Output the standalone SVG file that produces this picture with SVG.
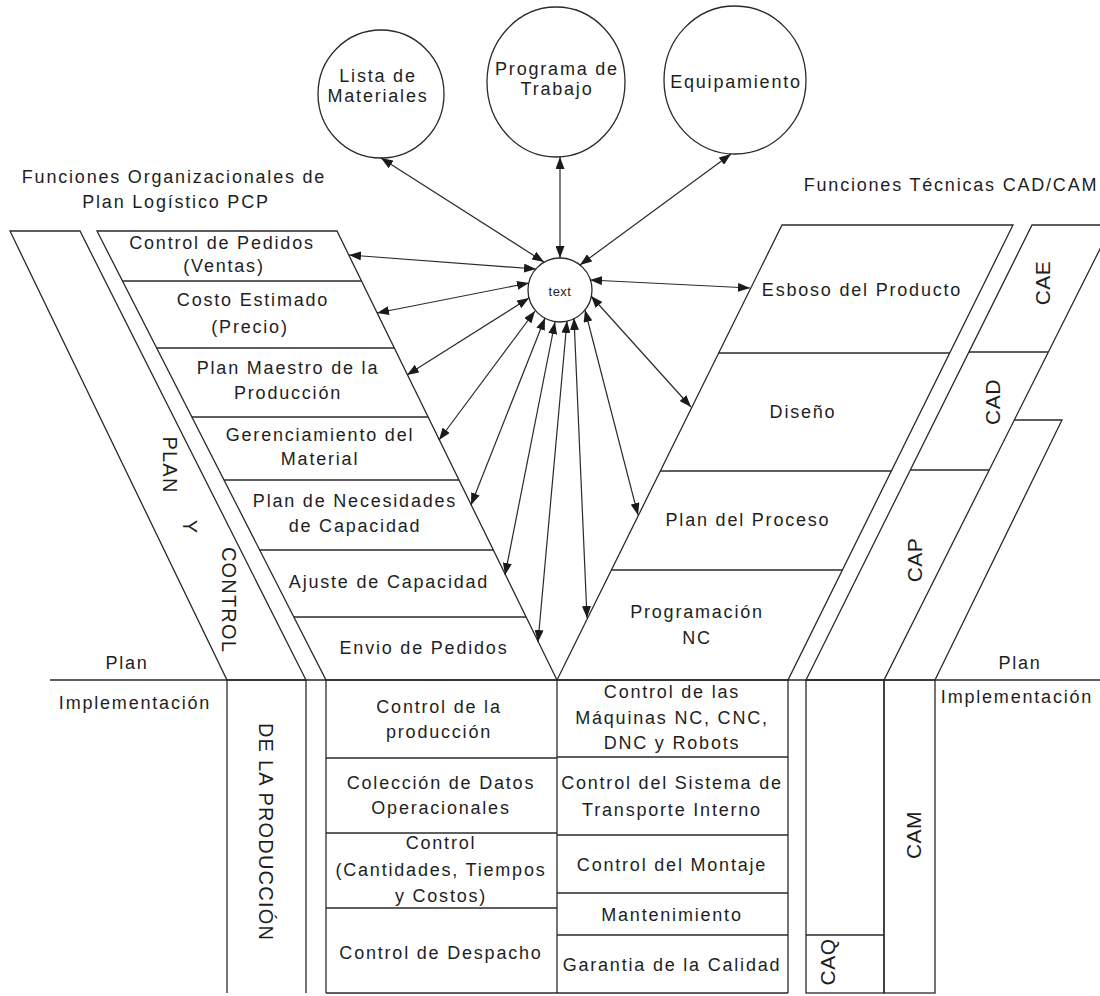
<svg xmlns="http://www.w3.org/2000/svg" width="1100" height="996" viewBox="0 0 1100 996">
<defs>
<style>
.s{fill:none;stroke:#2a2a2a;stroke-width:1.3}
.w{fill:#fff;stroke:#2a2a2a;stroke-width:1.3}
text{font-family:"Liberation Sans",Arial,sans-serif;font-size:18px;letter-spacing:1.8px;fill:#1e1e1e;text-anchor:middle;dominant-baseline:central}
.v{font-size:20px;letter-spacing:1.2px}
.c{font-size:21px;letter-spacing:0.5px}
.a{fill:none;stroke:#2a2a2a;stroke-width:1.2;marker-start:url(#ah);marker-end:url(#ah)}
</style>
<marker id="ah" viewBox="0 0 12 9" refX="12" refY="4.5" markerWidth="12" markerHeight="9" markerUnits="userSpaceOnUse" orient="auto-start-reverse"><path d="M0,0L12,4.5L0,9z" fill="#1a1a1a"/></marker>
</defs>
<rect width="1100" height="996" fill="#fff"/>

<g id="title-left">
<text x="174" y="177">Funciones Organizacionales de</text>
<text x="176" y="202">Plan Logístico PCP</text>
</g>
<g id="title-right">
<text x="951" y="185">Funciones Técnicas CAD/CAM</text>
</g>

<g id="circle-lista">
<ellipse class="w" cx="381" cy="94" rx="63" ry="64"/>
<text x="378" y="76">Lista de</text>
<text x="378" y="96">Materiales</text>
</g>
<g id="circle-programa">
<ellipse class="w" cx="556" cy="82" rx="69" ry="75"/>
<text x="557" y="69">Programa de</text>
<text x="557" y="89">Trabajo</text>
</g>
<g id="circle-equipamiento">
<ellipse class="w" cx="735" cy="80" rx="71" ry="74"/>
<text x="736" y="82">Equipamiento</text>
</g>

<g id="band-plan-control">
<polygon class="s" points="10,231 80,231 306,680 227,680"/>
<line class="s" x1="227" y1="680" x2="227" y2="993"/>
<line class="s" x1="306" y1="680" x2="306" y2="993"/>
<text class="v" transform="translate(170,465) rotate(90)">PLAN</text>
<text class="v" transform="translate(190,527) rotate(90)">Y</text>
<text class="v" transform="translate(229,600) rotate(90)">CONTROL</text>
<text class="v" transform="translate(266,832) rotate(90)">DE LA PRODUCCIÓN</text>
</g>

<g id="pcp-functions">
<polygon class="s" points="97,231 337,231 557,680 326,680"/>
<line class="s" x1="122.5" y1="281" x2="361.5" y2="281"/>
<line class="s" x1="156.7" y1="348" x2="394.3" y2="348"/>
<line class="s" x1="191.9" y1="417" x2="428.1" y2="417"/>
<line class="s" x1="224" y1="480" x2="459" y2="480"/>
<line class="s" x1="259.7" y1="550" x2="493.3" y2="550"/>
<line class="s" x1="293.9" y1="617" x2="526.1" y2="617"/>
<text x="222" y="243">Control de Pedidos</text>
<text x="224" y="266">(Ventas)</text>
<text x="253" y="300">Costo Estimado</text>
<text x="250" y="327">(Precio)</text>
<text x="288" y="368">Plan Maestro de la</text>
<text x="288" y="393">Producción</text>
<text x="320" y="435">Gerenciamiento del</text>
<text x="320" y="459">Material</text>
<text x="355" y="501">Plan de Necesidades</text>
<text x="355" y="526">de Capacidad</text>
<text x="389" y="582">Ajuste de Capacidad</text>
<text x="424" y="648">Envio de Pedidos</text>
</g>

<g id="cad-functions">
<polygon class="s" points="782,225 1013,225 788,680 557,680"/>
<line class="s" x1="718.7" y1="353" x2="949.7" y2="353"/>
<line class="s" x1="660.3" y1="471" x2="891.4" y2="471"/>
<line class="s" x1="611.4" y1="570" x2="842.4" y2="570"/>
<text x="862" y="290">Esboso del Producto</text>
<text x="803" y="412">Diseño</text>
<text x="748" y="520">Plan del Proceso</text>
<text x="697" y="612">Programación</text>
<text x="697" y="638">NC</text>
</g>

<g id="cax-band">
<polygon class="s" points="1032,225 1112,225 884,680 806,680"/>
<line class="s" x1="969" y1="352" x2="1048" y2="352"/>
<line class="s" x1="910.3" y1="470" x2="989" y2="470"/>
<text class="c" transform="translate(1042,283) rotate(-90)">CAE</text>
<text class="c" transform="translate(992,402) rotate(-90)">CAD</text>
<text class="c" transform="translate(914,560) rotate(-90)">CAP</text>
</g>

<g id="cam-plan-area">
<polyline class="s" points="1014,420 1062,420 935,680"/>
</g>

<g id="plan-implementacion">
<line class="s" x1="50" y1="680" x2="1100" y2="680"/>
<text x="127" y="663">Plan</text>
<text x="135" y="703">Implementación</text>
<text x="1020" y="663">Plan</text>
<text x="1017" y="697">Implementación</text>
</g>

<g id="production-control">
<line class="s" x1="326" y1="680" x2="326" y2="993"/>
<line class="s" x1="557" y1="680" x2="557" y2="993"/>
<line class="s" x1="326" y1="758" x2="557" y2="758"/>
<line class="s" x1="326" y1="833" x2="557" y2="833"/>
<line class="s" x1="326" y1="908" x2="557" y2="908"/>
<line class="s" x1="326" y1="993" x2="557" y2="993"/>
<text x="439" y="707">Control de la</text>
<text x="439" y="732">producción</text>
<text x="441" y="783">Colección de Datos</text>
<text x="441" y="808">Operacionales</text>
<text x="441" y="843">Control</text>
<text x="441" y="870">(Cantidades, Tiempos</text>
<text x="441" y="896">y Costos)</text>
<text x="441" y="953">Control de Despacho</text>
</g>

<g id="cam-functions">
<line class="s" x1="788" y1="680" x2="788" y2="993"/>
<line class="s" x1="557" y1="757" x2="788" y2="757"/>
<line class="s" x1="557" y1="835" x2="788" y2="835"/>
<line class="s" x1="557" y1="893" x2="788" y2="893"/>
<line class="s" x1="557" y1="935" x2="788" y2="935"/>
<line class="s" x1="557" y1="993" x2="788" y2="993"/>
<text x="672" y="692">Control de las</text>
<text x="672" y="718">Máquinas NC, CNC,</text>
<text x="672" y="743">DNC y Robots</text>
<text x="672" y="783">Control del Sistema de</text>
<text x="672" y="810">Transporte Interno</text>
<text x="672" y="865">Control del Montaje</text>
<text x="672" y="915">Mantenimiento</text>
<text x="672" y="965">Garantia de la Calidad</text>
</g>

<g id="caq-cam">
<rect class="s" x="806" y="680" width="78" height="313"/>
<rect class="s" x="884" y="680" width="51" height="313"/>
<line class="s" x1="806" y1="935" x2="884" y2="935"/>
<text class="c" transform="translate(827,962) rotate(-90)">CAQ</text>
<text class="c" transform="translate(913,835) rotate(-90)">CAM</text>
</g>

<g id="hub">
<circle class="w" cx="560" cy="290" r="32"/>
<text x="560" y="291" style="font-size:13px;letter-spacing:0.5px">text</text>
</g>

<g id="connectors">
<line class="a" x1="544" y1="262" x2="381" y2="158"/>
<line class="a" x1="560" y1="258" x2="560" y2="157"/>
<line class="a" x1="580" y1="265" x2="731" y2="154"/>
<line class="a" x1="536" y1="269" x2="349" y2="255"/>
<line class="a" x1="529" y1="283" x2="377" y2="313"/>
<line class="a" x1="529" y1="298" x2="407" y2="375"/>
<line class="a" x1="535" y1="311" x2="439" y2="440"/>
<line class="a" x1="545" y1="318" x2="471" y2="505"/>
<line class="a" x1="555" y1="322" x2="505" y2="575"/>
<line class="a" x1="567" y1="321" x2="538" y2="642"/>
<line class="a" x1="574" y1="318" x2="587" y2="618"/>
<line class="a" x1="585" y1="310" x2="638" y2="515"/>
<line class="a" x1="591" y1="296" x2="691" y2="407"/>
<line class="a" x1="590" y1="280" x2="750" y2="288"/>
</g>
</svg>
